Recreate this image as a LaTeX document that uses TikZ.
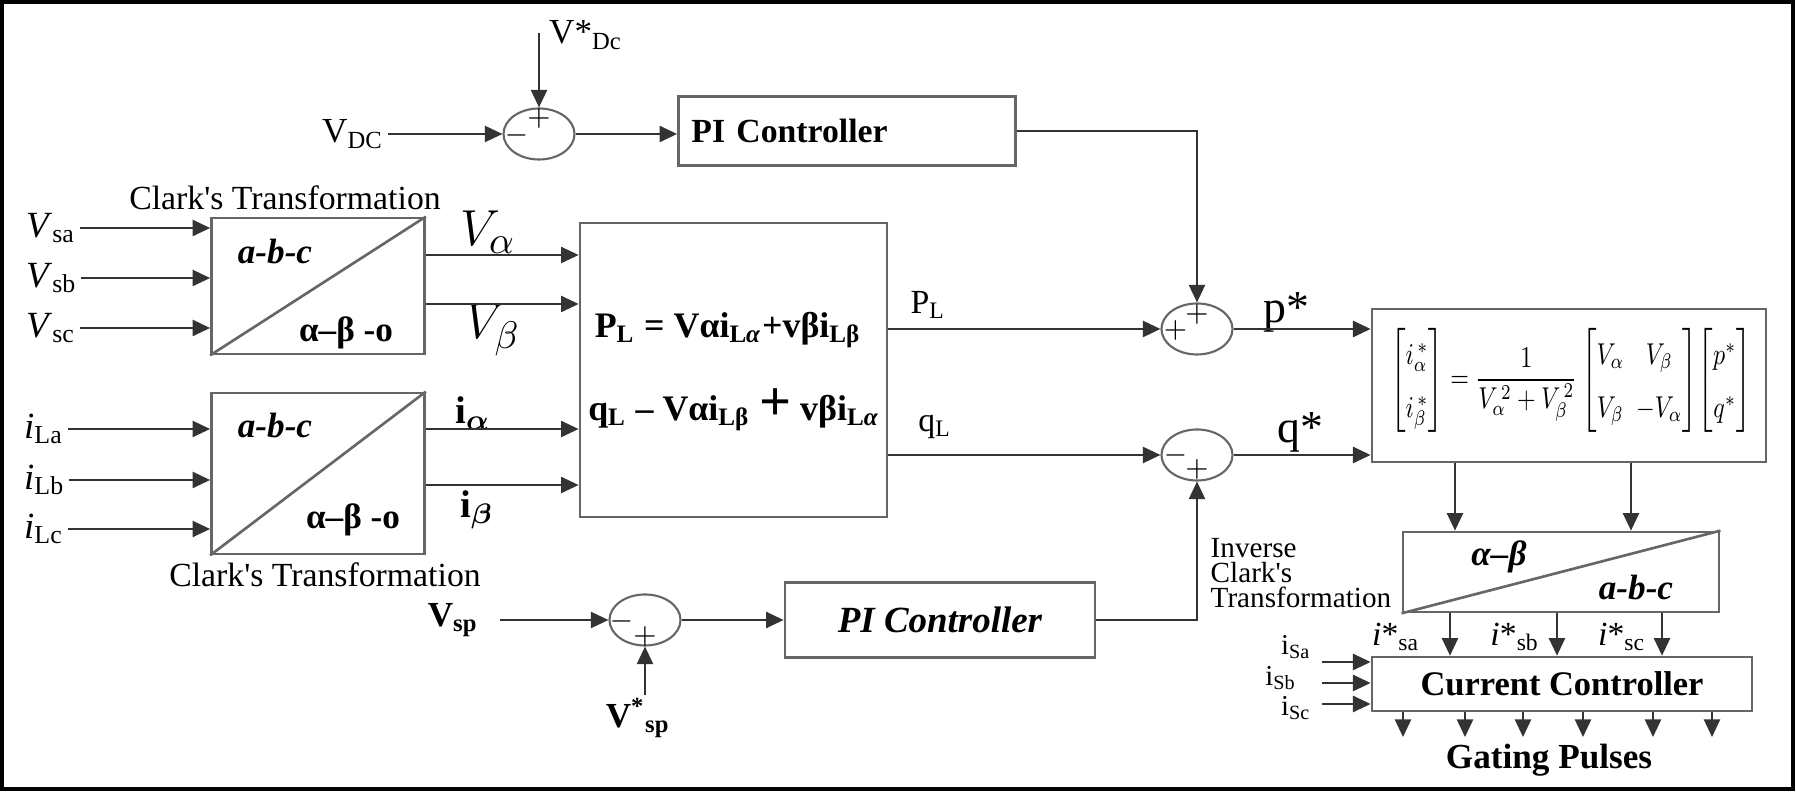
\documentclass[tikz,border=0pt]{standalone}
\usepackage{amsmath,amssymb}
\usepackage{graphicx}
\usepackage{fontspec}
\setmainfont{Liberation Serif}
\usetikzlibrary{arrows.meta,shapes.geometric}

\begin{document}
\begin{tikzpicture}[x=0.01cm, y=-0.01cm, every node/.style={font=\fontsize{9.6}{11}\selectfont, inner sep=1pt}, >={Triangle[length=5pt,width=4.6pt]},
	blk/.style={draw=black!60, line width=0.75pt, inner sep=0pt},
	sumj/.style={ellipse, draw=black!60, line width=0.6pt, minimum width=0.71cm, minimum height=0.51cm, inner sep=0pt},
	sgn/.style={font=\fontsize{8}{8}\selectfont, inner sep=0pt},
	wire/.style={draw=black!80, line width=0.55pt}]
	\useasboundingbox (0,0) rectangle (1796,792);
	\draw[line width=0.95pt] (2,2) rectangle (1793,789);

	\node[anchor=west, font=\fontsize{10}{12}\selectfont] (vdcref) at (545,35) {V*\textsubscript{Dc}};
	\node[anchor=west, font=\fontsize{10}{12}\selectfont] (vdc) at (318,134) {V\textsubscript{DC}};
	\coordinate (vdcin) at (539,33);
	\node[sumj] (sum1) at (539,134) {};
	\path (sum1.north) ++(0,11) node[sgn] (s1a) {$+$};
	\path (sum1.west) ++(14,1) node[sgn] (s1b) {$-$};
	\node[blk, minimum width=3.37cm, minimum height=0.69cm, text width=3.11cm, align=left, font=\bfseries\fontsize{9.6}{11}\selectfont] (pi1) at (847,131) {PI Controller};

	\node (clarka) at (285,198) {Clark\textquotesingle s Transformation};
	\node[blk, minimum width=2.13cm, minimum height=1.36cm] (clk1) at (318,286) {};
	\node[font=\bfseries\itshape\fontsize{10}{12}\selectfont] (abc1) at (275,252) {a-b-c};
	\node[font=\bfseries\fontsize{10}{12}\selectfont] (ab1) at (346,333) {α–β -o};
	\node[anchor=west, font=\fontsize{10.5}{12}\selectfont] (vsa) at (22,228) {\textit{V}\textsubscript{sa}};
	\node[anchor=west, font=\fontsize{10.5}{12}\selectfont] (vsb) at (22,278) {\textit{V}\textsubscript{sb}};
	\node[anchor=west, font=\fontsize{10.5}{12}\selectfont] (vsc) at (22,328) {\textit{V}\textsubscript{sc}};

	\node[blk, minimum width=2.13cm, minimum height=1.61cm] (clk2) at (318,473.5) {};
	\node[font=\bfseries\itshape\fontsize{10}{12}\selectfont] (abc2) at (275,426) {a-b-c};
	\node[font=\bfseries\fontsize{10}{12}\selectfont] (ab2) at (353,520) {α–β -o};
	\node (clarkb) at (325,575) {Clark\textquotesingle s Transformation};
	\node[anchor=west, font=\fontsize{10.5}{12}\selectfont] (ila) at (20,429) {\textit{i}\textsubscript{La}};
	\node[anchor=west, font=\fontsize{10.5}{12}\selectfont] (ilb) at (20,480) {\textit{i}\textsubscript{Lb}};
	\node[anchor=west, font=\fontsize{10.5}{12}\selectfont] (ilc) at (20,529) {\textit{i}\textsubscript{Lc}};

	\coordinate (yva) at (0,255);
	\coordinate (yvb) at (0,304);
	\coordinate (yia) at (0,429);
	\coordinate (yib) at (0,485);
	\node[font=\fontsize{15}{15}\selectfont] (lva) at (488,232) {$V_{\alpha}$};
	\node[font=\fontsize{15}{15}\selectfont] (lvb) at (493,330) {$V_{\beta}$};
	\node[font=\bfseries\fontsize{11}{12}\selectfont] (lia) at (473,413) {i$_{\boldsymbol{\alpha}}$};
	\node[font=\bfseries\fontsize{11}{12}\selectfont] (lib) at (477,510) {i$_{\boldsymbol{\beta}}$};

	\node[blk, minimum width=3.07cm, minimum height=2.94cm] (pq) at (733.5,370) {};
	\node[font=\bfseries\fontsize{10.2}{12}\selectfont] (peq) at (728,330) {P\textsubscript{L} = Vαi\textsubscript{L\textit{α}}+vβi\textsubscript{Lβ}};
	\node[font=\bfseries\fontsize{10.2}{12}\selectfont] (qeq) at (734,410) {q\textsubscript{L} – Vαi\textsubscript{Lβ} {\fontsize{16}{16}\selectfont +} vβi\textsubscript{L\textit{α}}};
	\node (lpl) at (928,305) {P\textsubscript{L}};
	\node (lql) at (935,427) {q\textsubscript{L}};

	\node[sumj] (sum2) at (1197,329) {};
	\path (sum2.north) ++(0,12) node[sgn] (s2a) {$+$};
	\path (sum2.west) ++(15,1) node[sgn] (s2b) {$+$};
	\node[sumj] (sum3) at (1197,455) {};
	\path (sum3.west) ++(15,0) node[sgn] (s3a) {$-$};
	\path (sum3.south) ++(0,-12) node[sgn] (s3b) {$+$};
	\node[font=\fontsize{13}{14}\selectfont] (lp) at (1286,312) {p*};
	\node[font=\fontsize{13}{14}\selectfont] (lq) at (1300,432) {q*};

	\node[blk, minimum width=3.94cm, minimum height=1.53cm] (mat) at (1569,385.5) {};
	\node[inner sep=0pt] (mateq) at (1571,380) {\resizebox*{3.61cm}{1.06cm}{$\renewcommand{\arraystretch}{1.6}\setlength{\arraycolsep}{2.5pt}\begin{bmatrix} i_{\alpha}^{\,*}\\ i_{\beta}^{\,*}\end{bmatrix}=\dfrac{1}{V_{\alpha}^{\,2}+V_{\beta}^{\,2}}\begin{bmatrix}V_{\alpha} & V_{\beta}\\ V_{\beta} & -V_{\alpha}\end{bmatrix}\!\begin{bmatrix}p^{*}\\ q^{*}\end{bmatrix}$}};

	\node[blk, minimum width=3.16cm, minimum height=0.80cm] (inv) at (1561,572) {};
	\node[font=\bfseries\itshape\fontsize{10}{12}\selectfont] (ab3) at (1499,557) {α–β};
	\node[font=\bfseries\itshape\fontsize{10}{12}\selectfont] (abc3) at (1636,588) {a-b-c};
	\node[anchor=west, align=left, inner sep=0pt, font=\fontsize{8.3}{7.1}\selectfont] (invlbl) at (1210,573) {Inverse\\Clark\textquotesingle s\\Transformation};
	\coordinate (xp) at (1455,0);
	\coordinate (xq) at (1631,0);

	\node[blk, minimum width=3.80cm, minimum height=0.54cm, font=\bfseries\fontsize{9.8}{11}\selectfont] (cc) at (1562,684) {Current Controller};
	\coordinate (xa) at (1450,0);
	\coordinate (xb) at (1557,0);
	\coordinate (xc) at (1662,0);
	\node (lisa) at (1396,637) {\textit{i}*\textsubscript{sa}};
	\node (lisb) at (1515,637) {\textit{i}*\textsubscript{sb}};
	\node (lisc) at (1622,637) {\textit{i}*\textsubscript{sc}};
	\node[font=\fontsize{8.2}{9}\selectfont, inner sep=0pt] (lsa) at (1296,647) {i\textsubscript{Sa}};
	\node[font=\fontsize{8.2}{9}\selectfont, inner sep=0pt] (lsb) at (1281,678) {i\textsubscript{Sb}};
	\node[font=\fontsize{8.2}{9}\selectfont, inner sep=0pt] (lsc) at (1296,708) {i\textsubscript{Sc}};
	\coordinate (sa) at (1322,662);
	\coordinate (sb) at (1322,683);
	\coordinate (sc) at (1322,704);
	\coordinate (g1) at (1403,737);
	\coordinate (g2) at (1465,737);
	\coordinate (g3) at (1523,737);
	\coordinate (g4) at (1583,737);
	\coordinate (g5) at (1653,737);
	\coordinate (g6) at (1712,737);
	\node[font=\bfseries\fontsize{10}{12}\selectfont] (gate) at (1549,760) {Gating Pulses};

	\node[font=\bfseries\fontsize{10}{12}\selectfont] (vsp) at (453,620) {V\textsubscript{sp}};
	\node[sumj] (sum4) at (645,620) {};
	\path (sum4.west) ++(13,1) node[sgn] (s4a) {$-$};
	\path (sum4.south) ++(0,-10) node[sgn] (s4b) {$+$};
	\coordinate (vspin) at (645,695);
	\node[font=\bfseries\fontsize{10}{12}\selectfont] (vspref) at (638,718) {V\textsuperscript{*}\textsubscript{sp}};
	\node[blk, minimum width=3.10cm, minimum height=0.75cm, font=\bfseries\itshape\fontsize{10.5}{12}\selectfont] (pi2) at (940,620) {PI Controller};

	\draw[blk] (clk1.south west) -- (clk1.north east);
	\draw[blk] (clk2.south west) -- (clk2.north east);
	\draw[blk] (inv.south west) -- (inv.north east);

	\draw[wire,->] (vdcin) -- (sum1);
	\draw[wire,->] (vdc) -- (sum1);
	\draw[wire,->] (sum1) -- (sum1 -| pi1.west);
	\draw[wire,->] (pi1.east) -| (sum2.north);
	\draw[wire,->] (vsa) -- (vsa -| clk1.west);
	\draw[wire,->] (vsb) -- (vsb -| clk1.west);
	\draw[wire,->] (vsc) -- (vsc -| clk1.west);
	\draw[wire,->] (ila) -- (ila -| clk2.west);
	\draw[wire,->] (ilb) -- (ilb -| clk2.west);
	\draw[wire,->] (ilc) -- (ilc -| clk2.west);
	\draw[wire,->] (clk1.east |- yva) -- (pq.west |- yva);
	\draw[wire,->] (clk1.east |- yvb) -- (pq.west |- yvb);
	\draw[wire,->] (clk2.east |- yia) -- (pq.west |- yia);
	\draw[wire,->] (clk2.east |- yib) -- (pq.west |- yib);
	\draw[wire,->] (pq.east |- sum2) -- (sum2);
	\draw[wire,->] (pq.east |- sum3) -- (sum3);
	\draw[wire,->] (sum2) -- (sum2 -| mat.west);
	\draw[wire,->] (sum3) -- (sum3 -| mat.west);
	\draw[wire,->] (mat.south -| xp) -- (inv.north -| xp);
	\draw[wire,->] (mat.south -| xq) -- (inv.north -| xq);
	\draw[wire,->] (inv.south -| xa) -- (cc.north -| xa);
	\draw[wire,->] (inv.south -| xb) -- (cc.north -| xb);
	\draw[wire,->] (inv.south -| xc) -- (cc.north -| xc);
	\draw[wire,->] (sa) -- (sa -| cc.west);
	\draw[wire,->] (sb) -- (sb -| cc.west);
	\draw[wire,->] (sc) -- (sc -| cc.west);
	\draw[wire,->] (cc.south -| g1) -- (g1);
	\draw[wire,->] (cc.south -| g2) -- (g2);
	\draw[wire,->] (cc.south -| g3) -- (g3);
	\draw[wire,->] (cc.south -| g4) -- (g4);
	\draw[wire,->] (cc.south -| g5) -- (g5);
	\draw[wire,->] (cc.south -| g6) -- (g6);
	\draw[wire,->, shorten <=5pt] (vsp) -- (sum4);
	\draw[wire,->] (vspin) -- (sum4);
	\draw[wire,->] (sum4) -- (pi2);
	\draw[wire,->] (pi2.east) -| (sum3.south);
\end{tikzpicture}
\end{document}
